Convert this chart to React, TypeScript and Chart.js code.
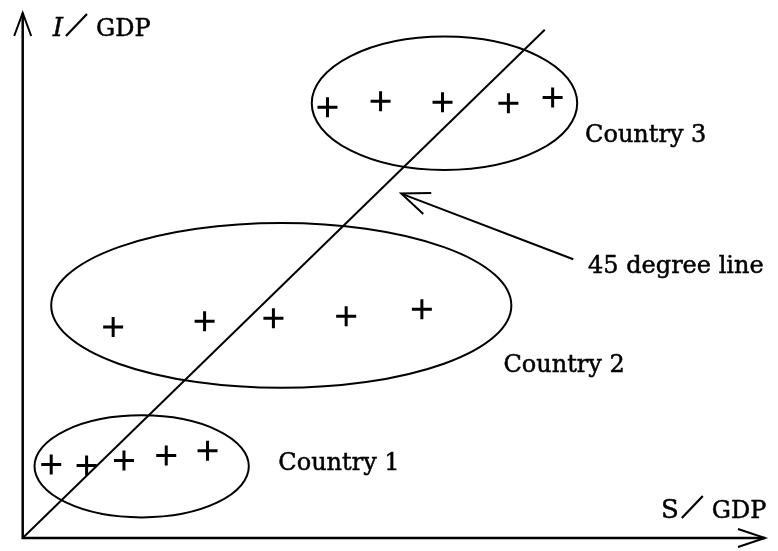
import React, { useEffect, useRef } from "react";
import { Chart, registerables } from "chart.js";

Chart.register(...registerables);

// ---- data (S/GDP on x, I/GDP on y; arbitrary units) ----
const country1S = [2.9, 6.5, 10.3, 14.6, 18.8];
const country1I = [7.5, 7.4, 7.9, 8.4, 8.9];
const country2S = [9.2, 18.5, 25.5, 32.9, 40.6];
const country2I = [21.5, 22.1, 22.4, 22.6, 23.3];
const country3S = [31.0, 36.4, 42.7, 49.4, 53.9];
const country3I = [43.9, 44.5, 44.4, 44.3, 44.9];

// 45 degree line end points
const lineS = [0, 53.1];
const lineI = [0, 51.8];

// cluster ellipses: centre and half-widths in data units
const clusterNames = ["Country 1", "Country 2", "Country 3"];
const clusterCenterS = [12.1, 26.3, 42.9];
const clusterCenterI = [7.3, 23.7, 44.3];
const clusterRadiusS = [10.9, 23.4, 13.5];
const clusterRadiusI = [5.2, 8.4, 6.8];

// label anchors (data units)
const clusterLabelS = [26.0, 48.9, 57.2];
const clusterLabelI = [6.9, 16.9, 40.4];
const lineLabel = "45 degree line";
const lineLabelS = 57.5;
const lineLabelI = 27.0;
const lineArrowFrom = [56.0, 28.4];
const lineArrowTo = [38.5, 35.1];

const X_MAX = 75.5;
const Y_MAX = 53.5;

const SERIF = '"DejaVu Serif", serif';

function pts(xs: number[], ys: number[]) {
  return xs.map((x, i) => ({ x, y: ys[i] }));
}

const diagramPlugin = {
  id: "diagram",
  afterDatasetsDraw(chart: any) {
    const ctx = chart.ctx as CanvasRenderingContext2D;
    const xs = chart.scales.x;
    const ys = chart.scales.y;
    const area = chart.chartArea;
    const px = (v: number) => xs.getPixelForValue(v);
    const py = (v: number) => ys.getPixelForValue(v);
    ctx.save();
    ctx.strokeStyle = "#000";
    ctx.fillStyle = "#000";

    // ellipses
    ctx.lineWidth = 2;
    for (let i = 0; i < clusterNames.length; i++) {
      const cx = px(clusterCenterS[i]);
      const cy = py(clusterCenterI[i]);
      const rx = Math.abs(px(clusterCenterS[i] + clusterRadiusS[i]) - cx);
      const ry = Math.abs(py(clusterCenterI[i] + clusterRadiusI[i]) - cy);
      ctx.beginPath();
      ctx.ellipse(cx, cy, rx, ry, 0, 0, Math.PI * 2);
      ctx.stroke();
    }

    // axes
    const ox = px(0);
    const oy = py(0);
    ctx.lineWidth = 2.5;
    ctx.beginPath();
    ctx.moveTo(ox, area.top);
    ctx.lineTo(ox, oy);
    ctx.lineTo(area.right, oy);
    ctx.stroke();
    ctx.lineWidth = 2;
    // y arrow head (open V)
    ctx.beginPath();
    ctx.moveTo(ox - 8.5, area.top + 23);
    ctx.lineTo(ox, area.top);
    ctx.lineTo(ox + 8.5, area.top + 23);
    ctx.stroke();
    // x arrow head
    ctx.beginPath();
    ctx.moveTo(area.right - 27, oy - 9);
    ctx.lineTo(area.right, oy);
    ctx.lineTo(area.right - 27, oy + 9);
    ctx.stroke();

    // arrow pointing to the 45 degree line
    const ax0 = px(lineArrowFrom[0]);
    const ay0 = py(lineArrowFrom[1]);
    const ax1 = px(lineArrowTo[0]);
    const ay1 = py(lineArrowTo[1]);
    ctx.lineWidth = 2;
    ctx.beginPath();
    ctx.moveTo(ax0, ay0);
    ctx.lineTo(ax1, ay1);
    ctx.stroke();
    const ang = Math.atan2(ay0 - ay1, ax0 - ax1);
    const headLen = 30;
    const spread = 0.38;
    ctx.beginPath();
    ctx.moveTo(ax1 + headLen * Math.cos(ang - spread), ay1 + headLen * Math.sin(ang - spread));
    ctx.lineTo(ax1, ay1);
    ctx.lineTo(ax1 + headLen * Math.cos(ang + spread), ay1 + headLen * Math.sin(ang + spread));
    ctx.stroke();

    // labels (slightly emboldened like the printed original)
    const text = (s: string, x: number, y: number) => {
      ctx.lineWidth = 0.5;
      ctx.fillText(s, x, y);
      ctx.strokeText(s, x, y);
    };
    ctx.textBaseline = "alphabetic";
    ctx.textAlign = "left";
    ctx.font = `24px ${SERIF}`;
    for (let i = 0; i < clusterNames.length; i++) {
      text(clusterNames[i], px(clusterLabelS[i]), py(clusterLabelI[i]));
    }
    text(lineLabel, px(lineLabelS), py(lineLabelI));

    // axis titles: letter, full-width solidus, GDP
    const drawTitle = (letter: string, italic: boolean, x: number, y: number) => {
      ctx.font = `${italic ? "italic " : ""}26px ${SERIF}`;
      text(letter, x, y);
      const sx = x + ctx.measureText(letter).width + 3;
      ctx.lineWidth = 2.2;
      ctx.beginPath();
      ctx.moveTo(sx, y);
      ctx.lineTo(sx + 21, y - 22);
      ctx.stroke();
      ctx.font = `24px ${SERIF}`;
      text("GDP", sx + 30, y);
    };
    drawTitle("I", true, ox + 30, area.top + 23);
    drawTitle("S", false, area.right - 104, oy - 20);

    ctx.restore();
  },
};

export default function App() {
  const ref = useRef<HTMLCanvasElement | null>(null);
  useEffect(() => {
    if (!ref.current) return;
    const crossStyle = {
      type: "scatter" as const,
      pointStyle: "cross",
      pointRadius: 10,
      pointBorderWidth: 3,
      borderColor: "#000",
      backgroundColor: "#000",
      showLine: false,
    };
    const chart = new Chart(ref.current, {
      type: "scatter",
      data: {
        datasets: [
          { ...crossStyle, label: "Country 1", data: pts(country1S, country1I) },
          { ...crossStyle, label: "Country 2", data: pts(country2S, country2I) },
          { ...crossStyle, label: "Country 3", data: pts(country3S, country3I) },
          {
            type: "line",
            label: "45 degree line",
            data: pts(lineS, lineI),
            borderColor: "#000",
            borderWidth: 2,
            pointRadius: 0,
            showLine: true,
          } as any,
        ],
      },
      options: {
        responsive: false,
        animation: false,
        devicePixelRatio: 1,
        layout: { padding: { left: 22.7, top: 12.5, right: 1, bottom: 3.7 } },
        plugins: { legend: { display: false }, tooltip: { enabled: false } },
        scales: {
          x: { type: "linear", min: 0, max: X_MAX, display: false },
          y: { type: "linear", min: 0, max: Y_MAX, display: false },
        },
      },
      plugins: [diagramPlugin],
    });
    return () => chart.destroy();
  }, []);
  return (
    <div style={{ position: "fixed", left: 0, top: 0, width: 778, height: 551, background: "#fff" }}>
      <canvas ref={ref} width={778} height={551} style={{ display: "block" }} />
    </div>
  );
}
